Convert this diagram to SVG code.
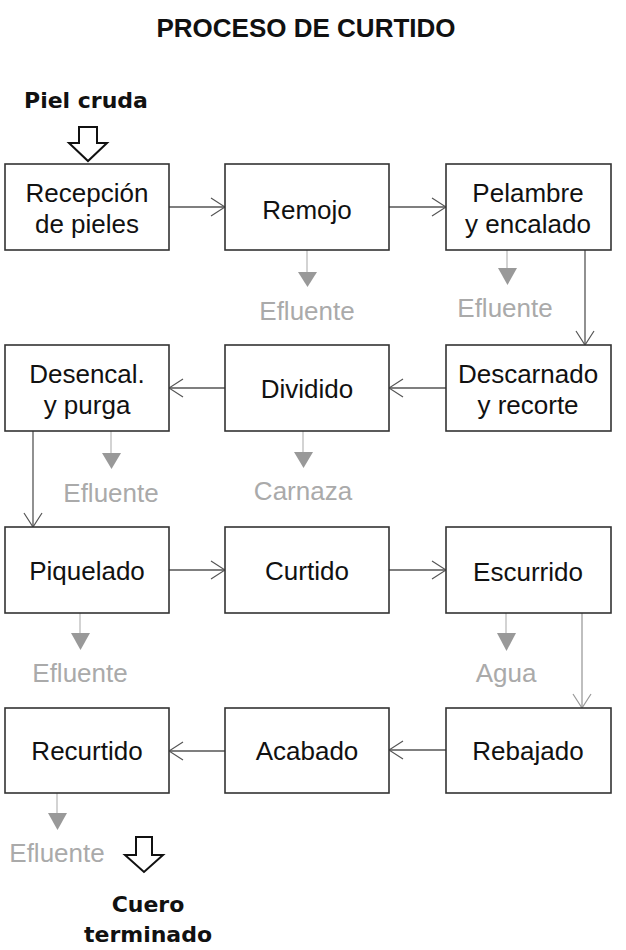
<svg xmlns="http://www.w3.org/2000/svg" width="626" height="950" viewBox="0 0 626 950">
<defs>
<style>
.box{fill:#fff;stroke:#333;stroke-width:1.6}
.lbl{font-family:"Liberation Sans",Arial,sans-serif;font-size:26px;fill:#111;text-anchor:middle}
.out{font-family:"Liberation Sans",Arial,sans-serif;font-size:26px;fill:#aaa;text-anchor:middle}
.bold{font-family:"DejaVu Sans",sans-serif;font-weight:bold;font-size:22px;fill:#111;text-anchor:middle}
.title{font-family:"Liberation Sans",Arial,sans-serif;font-weight:bold;font-size:26px;fill:#111;text-anchor:middle}
.con{fill:none;stroke:#555;stroke-width:1.3}
.conl{fill:none;stroke:#aaa;stroke-width:1.5}
.eff{fill:none;stroke:#c4c4c4;stroke-width:1.5}
.tri{fill:#999}
.hollow{fill:#fff;stroke:#111;stroke-width:2;stroke-linejoin:miter}
</style>
<marker id="open" markerWidth="16" markerHeight="20" refX="15" refY="10" orient="auto" markerUnits="userSpaceOnUse">
<path d="M1,1 L15,10 L1,19" fill="none" stroke="#555" stroke-width="1.2"/>
</marker>
<marker id="openl" markerWidth="16" markerHeight="20" refX="15" refY="10" orient="auto" markerUnits="userSpaceOnUse">
<path d="M1,1 L15,10 L1,19" fill="none" stroke="#999" stroke-width="1.2"/>
</marker>
</defs>
<rect width="626" height="950" fill="#fff"/>
<text class="title" x="306" y="37">PROCESO DE CURTIDO</text>

<g id="input">
<text class="bold" x="86" y="108">Piel cruda</text>
<polygon class="hollow" points="79,127 97,127 97,143 107,143 88,161 69,143 79,143"/>
</g>
<g id="output">
<polygon class="hollow" points="136,837 152,837 152,855 163,855 144,872 125,855 136,855"/>
<text class="bold" x="148" y="912">Cuero</text>
<text class="bold" x="148" y="942">terminado</text>
</g>

<g id="connectors">
<line class="con" x1="169" y1="207" x2="225" y2="207" marker-end="url(#open)"/>
<line class="con" x1="389" y1="207" x2="446" y2="207" marker-end="url(#open)"/>
<line class="con" x1="585" y1="250" x2="585" y2="345" marker-end="url(#open)"/>
<line class="con" x1="446" y1="388" x2="389" y2="388" marker-end="url(#open)"/>
<line class="con" x1="225" y1="388" x2="169" y2="388" marker-end="url(#open)"/>
<line class="con" x1="33" y1="431" x2="33" y2="527" marker-end="url(#open)"/>
<line class="con" x1="169" y1="570" x2="225" y2="570" marker-end="url(#open)"/>
<line class="con" x1="389" y1="570" x2="446" y2="570" marker-end="url(#open)"/>
<line class="conl" x1="582" y1="613" x2="582" y2="708" marker-end="url(#openl)"/>
<line class="con" x1="446" y1="750" x2="389" y2="750" marker-end="url(#open)"/>
<line class="con" x1="225" y1="751" x2="169" y2="751" marker-end="url(#open)"/>
</g>

<g id="outputs">
<line class="eff" x1="307" y1="250" x2="307" y2="273"/>
<polygon class="tri" points="298,272 317,272 307.5,287"/>
<text class="out" x="307" y="320">Efluente</text>

<line class="eff" x1="507" y1="250" x2="507" y2="269"/>
<polygon class="tri" points="498,268 517,268 507.5,285"/>
<text class="out" x="505" y="317">Efluente</text>

<line class="eff" x1="111" y1="431" x2="111" y2="454"/>
<polygon class="tri" points="102,453 121,453 111.5,469"/>
<text class="out" x="111" y="502">Efluente</text>

<line class="eff" x1="303" y1="431" x2="303" y2="453"/>
<polygon class="tri" points="294,452 313,452 303.5,468"/>
<text class="out" x="303" y="500">Carnaza</text>

<line class="eff" x1="80" y1="613" x2="80" y2="634"/>
<polygon class="tri" points="71,633 90,633 80.5,650"/>
<text class="out" x="80" y="682">Efluente</text>

<line class="eff" x1="506" y1="613" x2="506" y2="634"/>
<polygon class="tri" points="497,633 516,633 506.5,651"/>
<text class="out" x="506" y="682">Agua</text>

<line class="eff" x1="57" y1="793" x2="57" y2="814"/>
<polygon class="tri" points="48,813 67,813 57.5,830"/>
<text class="out" x="57" y="862">Efluente</text>
</g>

<g id="recepcion"><rect class="box" x="5" y="164" width="164" height="86"/>
<text class="lbl" x="87" y="202">Recepción</text><text class="lbl" x="87" y="233">de pieles</text></g>
<g id="remojo"><rect class="box" x="225" y="164" width="164" height="86"/>
<text class="lbl" x="307" y="219">Remojo</text></g>
<g id="pelambre"><rect class="box" x="446" y="164" width="165" height="86"/>
<text class="lbl" x="528" y="202">Pelambre</text><text class="lbl" x="528" y="233">y encalado</text></g>

<g id="desencal"><rect class="box" x="5" y="345" width="164" height="86"/>
<text class="lbl" x="87" y="383">Desencal.</text><text class="lbl" x="87" y="414">y purga</text></g>
<g id="dividido"><rect class="box" x="225" y="345" width="164" height="86"/>
<text class="lbl" x="307" y="398">Dividido</text></g>
<g id="descarnado"><rect class="box" x="446" y="345" width="165" height="86"/>
<text class="lbl" x="528" y="383">Descarnado</text><text class="lbl" x="528" y="414">y recorte</text></g>

<g id="piquelado"><rect class="box" x="5" y="527" width="164" height="86"/>
<text class="lbl" x="87" y="580">Piquelado</text></g>
<g id="curtido"><rect class="box" x="225" y="527" width="164" height="86"/>
<text class="lbl" x="307" y="580">Curtido</text></g>
<g id="escurrido"><rect class="box" x="446" y="527" width="165" height="86"/>
<text class="lbl" x="528" y="581">Escurrido</text></g>

<g id="recurtido"><rect class="box" x="5" y="708" width="164" height="85"/>
<text class="lbl" x="87" y="760">Recurtido</text></g>
<g id="acabado"><rect class="box" x="225" y="708" width="164" height="85"/>
<text class="lbl" x="307" y="760">Acabado</text></g>
<g id="rebajado"><rect class="box" x="446" y="708" width="165" height="85"/>
<text class="lbl" x="528" y="760">Rebajado</text></g>
</svg>
